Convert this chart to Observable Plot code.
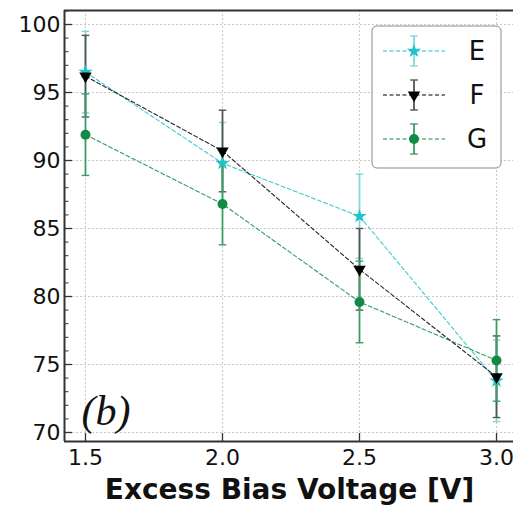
<!DOCTYPE html>
<html><head><meta charset="utf-8">
<script src="https://cdn.jsdelivr.net/npm/d3@7"></script>
<script src="https://cdn.jsdelivr.net/npm/@observablehq/plot@0.6"></script>
<style>body{margin:0;background:#fff;} svg{display:block;}</style>
</head><body>
<div id="chart"></div>
<script>
// ---- data ----
const voltages = [1.5, 2.0, 2.5, 3.0];
const seriesNames = ["E", "F", "G"];
const valuesE = [96.5, 89.8, 85.9, 73.8];
const errorsE = [3.0, 3.0, 3.1, 3.0];
const valuesF = [96.2, 90.7, 82.0, 74.1];
const errorsF = [3.0, 3.0, 3.0, 3.0];
const valuesG = [91.9, 86.8, 79.6, 75.3];
const errorsG = [3.0, 3.0, 3.0, 3.0];
const xTicks = [1.5, 2.0, 2.5, 3.0];
const xTickLabels = ["1.5", "2.0", "2.5", "3.0"];
const yTicks = [70, 75, 80, 85, 90, 95, 100];
const yMinorTicks = [71,72,73,74,76,77,78,79,81,82,83,84,86,87,88,89,91,92,93,94,96,97,98,99,101];
const xLabel = "Excess Bias Voltage [V]";
const panelLabel = "(b)";

// ---- styles ----
const colors = {E: "#1fc3c9", F: "#000000", G: "#108a47"};
const barColors = {E: "#7fdadd", F: "#555555", G: "#3a9d65"};
const symbols = {E: "star", F: "triangle", G: "circle"};
const rotations = {E: 0, F: 180, G: 0};
const sizes = {E: 4.5, F: 4.6, G: 5};

const rows = [];
const raw = {E: [valuesE, errorsE], F: [valuesF, errorsF], G: [valuesG, errorsG]};
for (const s of seriesNames) {
  const [v, e] = raw[s];
  voltages.forEach((x, i) => rows.push({series: s, x, y: v[i], lo: v[i] - e[i], hi: v[i] + e[i]}));
}

const capSymbol = {draw(ctx, size) { const w = 3.8; ctx.moveTo(-w, 0); ctx.lineTo(w, 0); }};

const W = 513, H = 505, mL = 64, mR = 0, mT = 10, mB = 64;
const plotW = W - mL - mR, plotH = H - mT - mB;
const xDomain = [1.4234, 3.062];
const yDomain = [69.338, 101.03];
const font = "DejaVu Sans";

const marks = [
  Plot.gridX(xTicks, {stroke: "#bbb", strokeOpacity: 1, strokeDasharray: "2,2", strokeWidth: 0.8}),
  Plot.gridY(yTicks, {stroke: "#bbb", strokeOpacity: 1, strokeDasharray: "2,2", strokeWidth: 0.8}),
];
for (const s of seriesNames) {
  const d = rows.filter(r => r.series === s);
  marks.push(
    Plot.ruleX(d, {x: "x", y1: "lo", y2: "hi", stroke: barColors[s], strokeWidth: 1.8}),
    Plot.dot(d, {x: "x", y: "lo", symbol: capSymbol, stroke: barColors[s], strokeWidth: 1.4, r: 4}),
    Plot.dot(d, {x: "x", y: "hi", symbol: capSymbol, stroke: barColors[s], strokeWidth: 1.4, r: 4})
  );
}
for (const s of seriesNames) {
  const d = rows.filter(r => r.series === s);
  marks.push(
    Plot.line(d, {x: "x", y: "y", stroke: colors[s], strokeWidth: 1.1, strokeDasharray: "4,2.5", strokeOpacity: 0.85}),
    Plot.dot(d, {x: "x", y: "y", symbol: () => symbols[s], fill: colors[s], stroke: "none", r: sizes[s], rotate: rotations[s]})
  );
}
marks.push(
  // inward ticks
  Plot.tickY(yTicks, {y: d => d, stroke: "#333", strokeWidth: 1.3, insetRight: plotW - 8}),
  Plot.tickY(yMinorTicks, {y: d => d, stroke: "#333", strokeWidth: 1, insetRight: plotW - 4.5}),
  Plot.tickX(xTicks, {x: d => d, stroke: "#333", strokeWidth: 1.3, insetTop: plotH - 8}),
  Plot.axisY(yTicks, {tickSize: 0, tickPadding: 4, fontSize: 22, fill: "#111", label: null}),
  Plot.axisX(xTicks, {tickSize: 0, tickPadding: 8, fontSize: 22, fill: "#111", label: null, tickFormat: (d, i) => xTickLabels[i]}),
  // spines
  Plot.ruleX([xDomain[0]], {stroke: "#333", strokeWidth: 2}),
  Plot.ruleY([yDomain[0]], {stroke: "#333", strokeWidth: 2}),
  Plot.ruleY([yDomain[1]], {stroke: "#333", strokeWidth: 2}),
  Plot.text([panelLabel], {frameAnchor: "bottom-left", dx: 17, dy: -17, lineAnchor: "bottom", textAnchor: "start",
    fontSize: 42, fontStyle: "italic", fontFamily: "Liberation Serif", fill: "#111"}),
  Plot.text([xLabel], {frameAnchor: "bottom", dx: 225 - plotW / 2, dy: 57, lineAnchor: "bottom", textAnchor: "middle",
    fontSize: 28, fontWeight: "bold", fill: "#111"})
);

const chart = Plot.plot({
  width: W, height: H,
  marginLeft: mL, marginRight: mR, marginTop: mT, marginBottom: mB,
  style: {fontFamily: font, background: "white", overflow: "visible"},
  x: {domain: xDomain, axis: null},
  y: {domain: yDomain, axis: null},
  marks
});
document.getElementById("chart").appendChild(chart);

// ---- legend ----
const svg = d3.select(chart);
const leg = svg.append("g").attr("font-family", font);
const lx = 372, ly = 26, lw = 129, lh = 142;
leg.append("rect").attr("x", lx).attr("y", ly).attr("width", lw).attr("height", lh).attr("rx", 5)
  .attr("fill", "white").attr("fill-opacity", 0.85).attr("stroke", "#888").attr("stroke-width", 1);
seriesNames.forEach((s, i) => {
  const cy = 51 + i * 44, cx = 414;
  const g = leg.append("g");
  g.append("line").attr("x1", 383).attr("x2", 445).attr("y1", cy).attr("y2", cy)
    .attr("stroke", colors[s]).attr("stroke-width", 1.1).attr("stroke-dasharray", "4,2.5");
  g.append("line").attr("x1", cx).attr("x2", cx).attr("y1", cy - 15).attr("y2", cy + 15)
    .attr("stroke", barColors[s]).attr("stroke-width", 1.8);
  [cy - 15, cy + 15].forEach(yy => g.append("line").attr("x1", cx - 3.8).attr("x2", cx + 3.8).attr("y1", yy).attr("y2", yy)
    .attr("stroke", barColors[s]).attr("stroke-width", 1.4));
  const sym = {star: d3.symbolStar, triangle: d3.symbolTriangle, circle: d3.symbolCircle}[symbols[s]];
  const area = Math.PI * sizes[s] * sizes[s];
  g.append("path").attr("d", d3.symbol(sym, area)())
    .attr("transform", `translate(${cx},${cy}) rotate(${rotations[s]})`).attr("fill", colors[s]);
  g.append("text").attr("x", 477).attr("y", cy).attr("dy", "0.36em").attr("text-anchor", "middle")
    .attr("font-size", 26).attr("fill", "#111").text(s);
});
</script>
</body></html>
